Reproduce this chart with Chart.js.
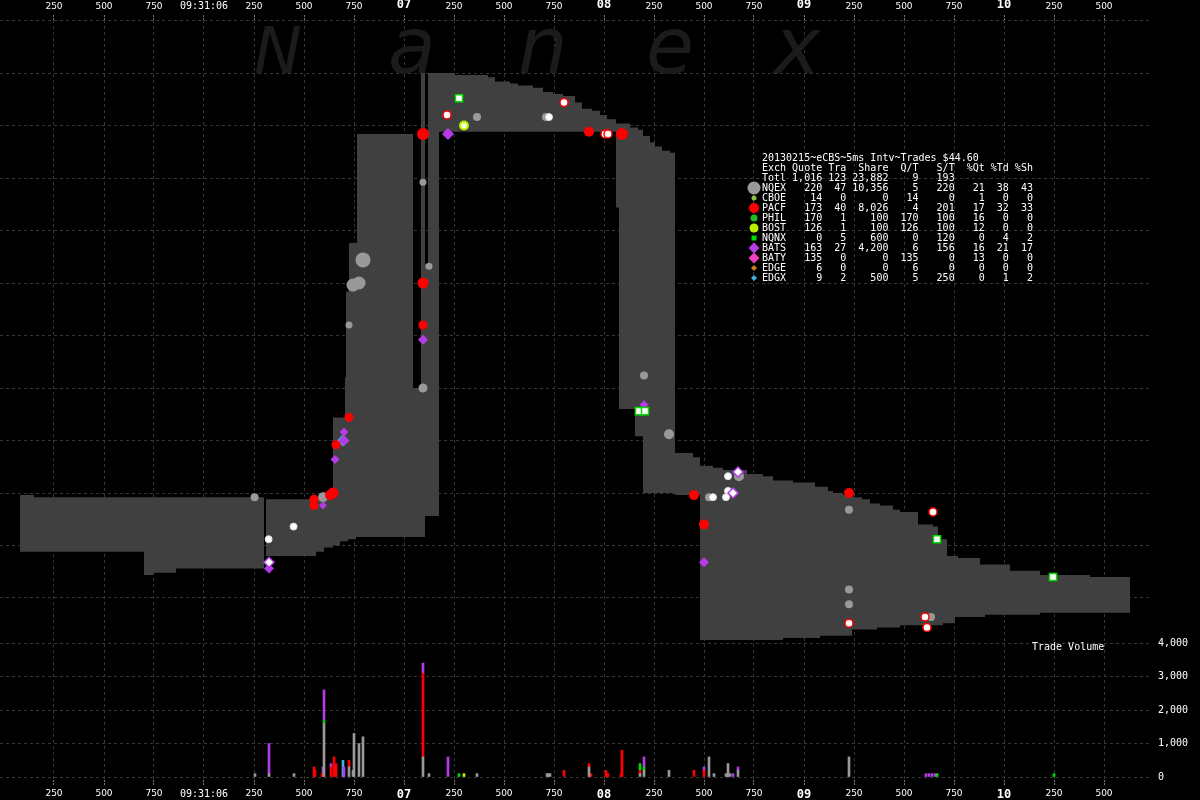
<!DOCTYPE html>
<html>
<head>
<meta charset="utf-8">
<script src="https://cdn.jsdelivr.net/npm/chart.js@4.4.0/dist/chart.umd.min.js"></script>
<style>
  html, body { margin: 0; padding: 0; background: #000; overflow: hidden; }
  canvas { display: block; }
</style>
</head>
<body>
<canvas id="canvas" width="1200" height="800"></canvas>
<script>
// times are ms after 09:31:05.000
const timeTicks = [250, 500, 750, 1000, 1250, 1500, 1750, 2000, 2250, 2500, 2750, 3000, 3250, 3500, 3750, 4000, 4250, 4500, 4750, 5000, 5250, 5500];
const priceTicks = [43.5, 43.75, 44, 44.25, 44.5, 44.75, 45, 45.25, 45.5, 45.75, 46, 46.25];
const volTicks = [0, 1000, 2000, 3000, 4000];

// NBBO band (each point starts a step)
const bandTime = [80, 150, 700, 750, 860, 1300, 1310, 1560, 1600, 1645, 1680, 1705, 1710, 1720, 1725, 1760, 1765, 2045, 2085, 2105, 2120, 2175, 2255, 2420, 2455, 2530, 2570, 2645, 2695, 2745, 2795, 2855, 2890, 2940, 2980, 3015, 3060, 3075, 3130, 3155, 3170, 3195, 3230, 3255, 3290, 3330, 3355, 3445, 3480, 3545, 3595, 3715, 3795, 3845, 3895, 3945, 4055, 4080, 4120, 4145, 4195, 4240, 4245, 4290, 4330, 4365, 4380, 4445, 4480, 4570, 4645, 4670, 4695, 4715, 4755, 4770, 4880, 4905, 5030, 5180, 5430, 5630];
const bandHigh = [43.99, 43.98, 43.98, 43.98, 43.98, 43.97, 43.97, 43.97, 43.97, 44.36, 44.36, 44.55, 44.96, 44.96, 45.19, 45.19, 45.71, 44.50, 46.00, 45.09, 46.00, 46.00, 45.99, 45.98, 45.96, 45.95, 45.94, 45.93, 45.91, 45.90, 45.89, 45.86, 45.83, 45.82, 45.80, 45.78, 45.76, 45.76, 45.74, 45.74, 45.73, 45.70, 45.67, 45.65, 45.63, 45.62, 44.19, 44.17, 44.13, 44.12, 44.11, 44.09, 44.08, 44.06, 44.06, 44.05, 44.03, 44.03, 44.01, 44.00, 43.99, 43.99, 43.98, 43.97, 43.95, 43.95, 43.94, 43.92, 43.91, 43.85, 43.84, 43.78, 43.78, 43.70, 43.70, 43.69, 43.66, 43.66, 43.63, 43.61, 43.60, 43.60];
const bandLow = [43.72, 43.72, 43.61, 43.62, 43.64, 43.97, 43.70, 43.72, 43.74, 43.75, 43.77, 43.77, 43.77, 43.78, 43.78, 43.79, 43.79, 43.79, 43.79, 43.89, 43.89, 45.72, 45.72, 45.72, 45.72, 45.72, 45.72, 45.72, 45.72, 45.72, 45.72, 45.72, 45.72, 45.72, 45.72, 45.72, 45.36, 44.40, 44.40, 44.27, 44.27, 44.00, 44.00, 44.00, 44.00, 44.00, 43.99, 43.99, 43.30, 43.30, 43.30, 43.30, 43.30, 43.30, 43.31, 43.31, 43.31, 43.32, 43.32, 43.32, 43.32, 43.35, 43.35, 43.35, 43.35, 43.36, 43.36, 43.36, 43.37, 43.37, 43.37, 43.37, 43.38, 43.38, 43.41, 43.41, 43.41, 43.42, 43.42, 43.43, 43.43, 43.43];

// trades / quotes shown as markers
const nqexTime = [1253, 1595, 1725, 1745, 1775, 1795, 2095, 2125, 2095, 2365, 2710, 3200, 3325, 3675, 4225, 4225, 4225, 4635, 3525];
const nqexPrice = [43.98, 43.98, 44.80, 44.99, 45.00, 45.11, 45.48, 45.08, 44.50, 45.79, 45.79, 44.56, 44.28, 44.08, 43.92, 43.54, 43.47, 43.41, 43.98];
const nqexSize = [4, 5, 3.5, 6.5, 6.5, 7.5, 3.5, 3.5, 4.5, 4, 4, 4, 5, 5, 4, 4, 4, 4, 4];
const nqexWTime = [1323, 1448, 2725, 3545, 3610, 3620, 3620];
const nqexWPrice = [43.78, 43.84, 45.79, 43.98, 43.98, 44.01, 44.08];
const pacfTime = [1550, 1550, 1630, 1645, 1660, 1725, 2095, 2095, 2095, 2925, 3090, 3450, 3500, 4225];
const pacfPrice = [43.97, 43.94, 43.99, 44.00, 44.23, 44.36, 45.00, 44.80, 45.71, 45.72, 45.71, 43.99, 43.85, 44.00];
const pacfSize = [4.5, 4.5, 5, 5.5, 4.5, 4.5, 5.5, 4.5, 6, 5, 6, 5, 5, 5];
const pacfWTime = [2215, 2800, 3005, 3020, 4225, 4645, 4605, 4615];
const pacfWPrice = [45.80, 45.86, 45.71, 45.71, 43.38, 43.91, 43.41, 43.36];
const batsTime = [1325, 1595, 1635, 1655, 1700, 1700, 2095, 2220, 3200, 3500];
const batsPrice = [43.64, 43.94, 43.98, 44.16, 44.29, 44.25, 44.73, 45.71, 44.42, 43.67];
const batsSize = [5, 4, 3, 4.5, 4.5, 5.5, 5, 6, 4.5, 5];
const batsWTime = [1325, 3670, 3645];
const batsWPrice = [43.67, 44.10, 44.00];
const nqnxTime = [2275, 3175, 3205, 4665, 5245];
const nqnxPrice = [45.88, 44.39, 44.39, 43.78, 43.60];
const bostTime = [2300];
const bostPrice = [45.75];
const edgxTime = [1695];
const edgxPrice = [44.25];

// trade volume
const nqexVolTime = [1255, 1325, 1450, 1600, 1725, 1745, 1750, 1775, 1795, 2095, 2125, 2365, 2715, 2725, 2730, 2925, 3180, 3200, 3325, 3525, 3550, 3610, 3620, 3630, 3670, 4225];
const nqexVol = [100, 100, 100, 1600, 300, 200, 1300, 1000, 1200, 600, 100, 100, 100, 100, 100, 300, 100, 200, 200, 600, 100, 100, 400, 100, 200, 600];
const pacfVolTime = [1550, 1555, 1590, 1635, 1650, 1655, 1660, 1725, 2095, 2800, 2925, 2935, 3010, 3015, 3020, 3085, 3090, 3180, 3450, 3500];
const pacfVol = [300, 200, 100, 300, 600, 100, 400, 200, 2500, 200, 100, 100, 200, 100, 100, 100, 800, 100, 200, 200];
const philVolTime = [1600];
const philVol = [100];
const bostVolTime = [2300];
const bostVol = [100];
const nqnxVolTime = [2275, 3180, 3200, 4665, 5250];
const nqnxVol = [100, 200, 100, 100, 100];
const batsVolTime = [1325, 1595, 1600, 1635, 1700, 2095, 2220, 3200, 3500, 3645, 3670, 4610, 4625, 4640, 4655];
const batsVol = [900, 300, 900, 100, 300, 300, 600, 300, 100, 100, 100, 100, 100, 100, 100];
const edgxVolTime = [1695];
const edgxVol = [500];

// exchange summary table
const tableTitle = "20130215~eCBS~5ms Intv~Trades $44.60";
const exch = ["NQEX", "CBOE", "PACF", "PHIL", "BOST", "NQNX", "BATS", "BATY", "EDGE", "EDGX"];
const quotes = [220, 14, 173, 170, 126, 0, 163, 135, 6, 9];
const trades = [47, 0, 40, 1, 1, 5, 27, 0, 0, 2];
const shares = [10356, 0, 8026, 100, 100, 600, 4200, 0, 0, 500];
const quotesPerTrade = [5, 14, 4, 170, 126, 0, 6, 135, 6, 5];
const sharesPerTrade = [220, 0, 201, 100, 100, 120, 156, 0, 0, 250];
const pctQuotes = [21, 1, 17, 16, 12, 0, 16, 13, 0, 0];
const pctTrades = [38, 0, 32, 0, 0, 4, 21, 0, 0, 1];
const pctShares = [43, 0, 33, 0, 0, 2, 17, 0, 0, 2];
const total = [1016, 123, 23882, 9, 193];
const exchColor = ["#999999", "#8cc43c", "#ff0000", "#22bb22", "#b8f000", "#00dd00", "#b43ce6", "#f040c0", "#c88020", "#3cb4e0"];
const exchShape = ["circle", "circle", "circle", "circle", "circle", "rect", "diamond", "diamond", "diamond", "diamond"];
const exchMark = [6.5, 2.5, 5, 3.5, 4.5, 2.5, 5.5, 5.5, 3, 3];

// 5 ms per pixel, 09:31:05.000 sits at x = 4
const MS_PER_PX = 5, X_ZERO = 4;
const P_MAX = 46.25 + 0.5 / 210, P_MIN = P_MAX - 760 / 210;
const V_MIN = -3 / 0.0335, V_MAX = V_MIN + 760 / 0.0335;

const canvas = document.getElementById("canvas");
const ctx = canvas.getContext("2d");

const pts = (t, p) => t.map((v, i) => ({ x: v, y: p[i] }));
const fmt = (n) => n.toLocaleString("en-US");

const noPad = (s) => { s.paddingLeft = 0; s.paddingRight = 0; s.paddingTop = 0; s.paddingBottom = 0; };

const timeLabel = (v) => {
  if (v % 1000) return String(v % 1000);
  const sec = 5 + v / 1000;
  return sec === 6 ? "09:31:06" : String(sec).padStart(2, "0");
};
const timeFont = (c) => {
  const v = c.tick ? c.tick.value : 0;
  if (v % 1000) return { family: "DejaVu Sans", size: 9 };
  if (v === 1000) return { family: "DejaVu Sans Mono", size: 10 };
  return { family: "DejaVu Sans Mono", size: 12, weight: "bold" };
};

const timeAxis = (position) => ({
  type: "linear",
  position,
  min: (0 - X_ZERO) * MS_PER_PX,
  max: (1150 - X_ZERO) * MS_PER_PX,
  offset: false,
  afterBuildTicks: (s) => { s.ticks = timeTicks.map((v) => ({ value: v })); },
  afterFit: (s) => { s.height = 20; noPad(s); },
  ticks: { autoSkip: false, maxRotation: 0, padding: 3, color: "#ffffff", font: timeFont, callback: timeLabel },
  grid: { color: "#363636", offset: false, drawOnChartArea: position === "bottom", tickLength: 5, tickColor: "#777", tickBorderDash: [2, 1] },
  border: { display: false, dash: [3, 3] },
});

const marks = (label, t, p, opts) => Object.assign({
  type: "scatter", label, data: pts(t, p), xAxisID: "x", yAxisID: "yPrice", order: 1,
  pointBorderWidth: 0,
}, opts);

const vol = (label, t, v, color) => ({
  type: "bar", label, data: pts(t, v), xAxisID: "x", yAxisID: "yVol", stack: "vol",
  backgroundColor: color, barThickness: 2, borderWidth: 0, order: 2,
});

const watermark = {
  id: "watermark",
  beforeDatasetsDraw(chart) {
    const c = chart.ctx;
    c.save();
    c.fillStyle = "#1b1b1b";
    c.textBaseline = "alphabetic";
    c.font = 'italic 64px "DejaVu Sans"';
    c.fillText("N", 254, 73);
    c.font = 'italic 78px "DejaVu Sans"';
    [["a", 388], ["n", 518], ["e", 646], ["x", 774]].forEach(([ch, x]) => c.fillText(ch, x, 73));
    c.restore();
  },
};

const drawMark = (c, shape, color, r, x, y) => {
  c.fillStyle = color;
  c.beginPath();
  if (shape === "circle") c.arc(x, y, r, 0, Math.PI * 2);
  else if (shape === "rect") c.rect(x - r, y - r, 2 * r, 2 * r);
  else { c.moveTo(x, y - r); c.lineTo(x + r, y); c.lineTo(x, y + r); c.lineTo(x - r, y); c.closePath(); }
  c.fill();
};

const tablePlugin = {
  id: "exchTable",
  afterDatasetsDraw(chart) {
    const c = chart.ctx;
    const x0 = 762, y0 = 158, lh = 10;
    c.save();
    c.font = '10px "DejaVu Sans Mono"';
    c.textBaseline = "middle";
    c.textAlign = "left";
    c.fillStyle = "#ffffff";
    c.fillText(tableTitle, x0, y0);
    c.fillText("Exch Quote Tra  Share  Q/T   S/T  %Qt %Td %Sh", x0, y0 + lh);
    c.fillText("Totl" + fmt(total[0]).padStart(6) + fmt(total[1]).padStart(4) + fmt(total[2]).padStart(7) +
      fmt(total[3]).padStart(5) + fmt(total[4]).padStart(6), x0, y0 + 2 * lh);
    exch.forEach((name, i) => {
      const y = y0 + (3 + i) * lh;
      const row = name + fmt(quotes[i]).padStart(6) + fmt(trades[i]).padStart(4) + fmt(shares[i]).padStart(7) +
        fmt(quotesPerTrade[i]).padStart(5) + fmt(sharesPerTrade[i]).padStart(6) + fmt(pctQuotes[i]).padStart(5) +
        fmt(pctTrades[i]).padStart(4) + fmt(pctShares[i]).padStart(4);
      c.fillStyle = "#ffffff";
      c.fillText(row, x0, y);
      drawMark(c, exchShape[i], exchColor[i], exchMark[i], 754, y);
    });
    c.fillStyle = "#ffffff";
    c.fillText("Trade Volume", 1032, 647);
    c.restore();
  },
};

const chart = new Chart(ctx, {
  type: "bar",
  data: {
    datasets: [
      marks("EDGX", edgxTime, edgxPrice, { pointStyle: "rectRot", pointRadius: 6, pointBackgroundColor: "#3cb4e0", order: 1.5 }),
      marks("NQNX", nqnxTime, nqnxPrice, { pointStyle: "rect", pointRadius: 5, pointBackgroundColor: "#ffffff", pointBorderColor: "#00dd00", pointBorderWidth: 1.5 }),
      marks("BOST", bostTime, bostPrice, { pointStyle: "circle", pointRadius: 4, pointBackgroundColor: "#f4ffc0", pointBorderColor: "#b8f000", pointBorderWidth: 2 }),
      marks("PACF w", pacfWTime, pacfWPrice, { pointStyle: "circle", pointRadius: 4, pointBackgroundColor: "#ffffff", pointBorderColor: "#ff0000", pointBorderWidth: 1.5 }),
      marks("BATS w", batsWTime, batsWPrice, { pointStyle: "rectRot", pointRadius: 5, pointBackgroundColor: "#ffffff", pointBorderColor: "#b43ce6", pointBorderWidth: 1.5 }),
      marks("NQEX w", nqexWTime, nqexWPrice, { pointStyle: "circle", pointRadius: 3.5, pointBackgroundColor: "#ffffff", pointBorderColor: "#dddddd", pointBorderWidth: 1 }),
      marks("PACF", pacfTime, pacfPrice, { pointStyle: "circle", pointRadius: pacfSize, pointBackgroundColor: "#ff0000" }),
      marks("BATS", batsTime, batsPrice, { pointStyle: "rectRot", pointRadius: batsSize, pointBackgroundColor: "#b43ce6" }),
      marks("NQEX", nqexTime, nqexPrice, { pointStyle: "circle", pointRadius: nqexSize, pointBackgroundColor: "#999999" }),
      vol("NQEX vol", nqexVolTime, nqexVol, "#999999"),
      vol("PACF vol", pacfVolTime, pacfVol, "#ff0000"),
      vol("PHIL vol", philVolTime, philVol, "#00cc00"),
      vol("BOST vol", bostVolTime, bostVol, "#b8f000"),
      vol("NQNX vol", nqnxVolTime, nqnxVol, "#00dd00"),
      vol("BATS vol", batsVolTime, batsVol, "#b43ce6"),
      vol("EDGX vol", edgxVolTime, edgxVol, "#3cb4e0"),
      {
        type: "line", label: "Ask", data: pts(bandTime, bandHigh), xAxisID: "x", yAxisID: "yPrice",
        stepped: true, borderColor: "rgba(0,0,0,0)", borderWidth: 0, pointRadius: 0, fill: false, order: 3,
      },
      {
        type: "line", label: "Bid", data: pts(bandTime, bandLow), xAxisID: "x", yAxisID: "yPrice",
        stepped: true, borderColor: "rgba(0,0,0,0)", borderWidth: 0, pointRadius: 0, fill: "-1",
        backgroundColor: "#404040", order: 3,
      },
    ],
  },
  options: {
    responsive: false,
    maintainAspectRatio: false,
    devicePixelRatio: 1,
    animation: false,
    layout: { padding: 0, autoPadding: false },
    plugins: { legend: { display: false }, tooltip: { enabled: false } },
    scales: {
      x: timeAxis("bottom"),
      xTop: timeAxis("top"),
      yPrice: {
        type: "linear",
        position: "right",
        weight: 0,
        min: P_MIN,
        max: P_MAX,
        afterBuildTicks: (s) => { s.ticks = priceTicks.map((v) => ({ value: v })); },
        afterFit: (s) => { s.width = 0; noPad(s); },
        ticks: { padding: 8, color: "#ffffff", font: { family: "DejaVu Sans Mono", size: 10 }, callback: (v) => v.toFixed(2) },
        grid: { color: "#363636", drawTicks: false },
        border: { display: false, dash: [3, 3] },
      },
      yVol: {
        type: "linear",
        position: "right",
        weight: 1,
        min: V_MIN,
        max: V_MAX,
        afterBuildTicks: (s) => { s.ticks = volTicks.map((v) => ({ value: v })); },
        afterFit: (s) => { s.width = 50; noPad(s); },
        ticks: { padding: 8, color: "#ffffff", font: { family: "DejaVu Sans Mono", size: 10 }, callback: (v) => fmt(v) },
        grid: { color: "#363636", drawTicks: false },
        border: { display: false, dash: [3, 3] },
      },
    },
  },
  plugins: [watermark, tablePlugin],
});

// pin the time range to wherever the plot area landed
const area = chart.chartArea;
["x", "xTop"].forEach((id) => {
  chart.options.scales[id].min = (area.left - X_ZERO) * MS_PER_PX;
  chart.options.scales[id].max = (area.right - X_ZERO) * MS_PER_PX;
});
chart.update();
</script>
</body>
</html>
